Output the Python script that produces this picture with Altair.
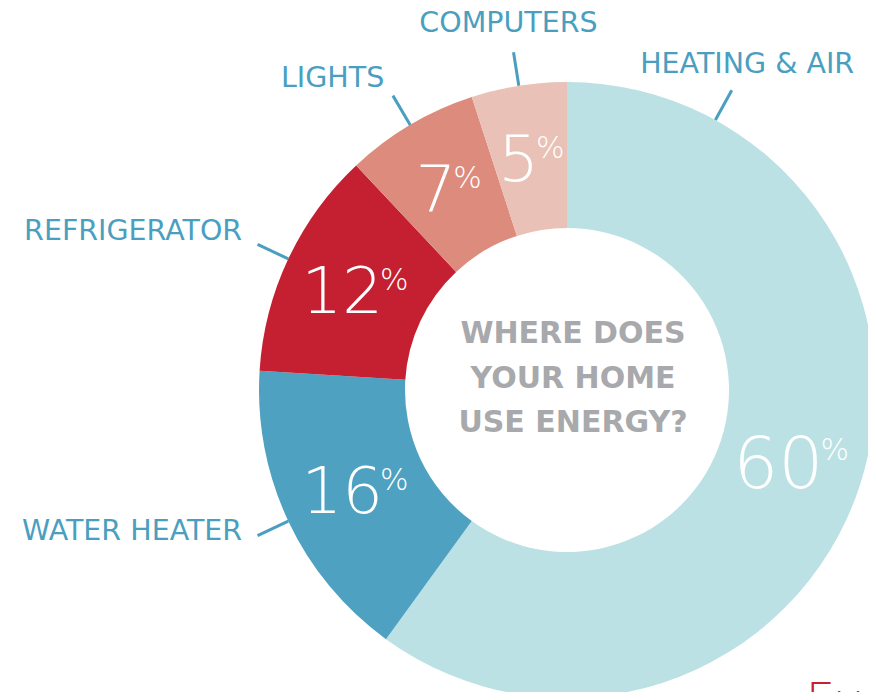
import altair as alt
import pandas as pd

# ---- data ----
categories = ["HEATING & AIR", "WATER HEATER", "REFRIGERATOR", "LIGHTS", "COMPUTERS"]
shares = [60, 16, 12, 7, 5]
colors = ["#BCE1E4", "#4EA1C0", "#C42032", "#DD8B7C", "#E9C1B6"]
center_lines = ["WHERE DOES", "YOUR HOME", "USE ENERGY?"]
footer_text = "Every"

df = pd.DataFrame({"idx": list(range(len(categories))), "category": categories, "value": shares})

# ---- layout constants ----
CX, CY = 559, 382
R_OUT, R_IN = 308, 162
R_PCT = 235
R_L1, R_L2 = 308, 342
LABEL_BLUE = "#4A9FC0"
FONT = "DejaVu Sans"

base = (
    alt.Chart(df)
    .transform_window(cum="sum(value)", sort=[alt.SortField("idx")], frame=[None, 0])
    .transform_joinaggregate(total="sum(value)")
    .transform_calculate(
        a0="2*PI*(datum.cum-datum.value)/datum.total",
        a1="2*PI*datum.cum/datum.total",
    )
    .transform_calculate(
        am="(datum.a0+datum.a1)/2",
        al="datum.a0 + 2*PI*min(datum.value/2, 8)/datum.total",
    )
)

arcs = base.mark_arc(innerRadius=R_IN, outerRadius=R_OUT).encode(
    theta=alt.Theta("a0:Q", scale=None),
    theta2="a1:Q",
    color=alt.Color("category:N", scale=alt.Scale(domain=categories, range=colors), legend=None),
    x=alt.value(CX),
    y=alt.value(CY),
)

pct_base = base.transform_calculate(
    px=f"{CX} + {R_PCT}*sin(datum.am)",
    py=f"{CY} - {R_PCT}*cos(datum.am)",
    label="toString(datum.value)",
    fs="datum.value >= 30 ? 71 : 64",
).transform_calculate(
    jx="datum.px + (length(datum.label)*0.62*datum.fs - 26)/2",
).transform_calculate(
    nx="datum.jx + 2",
    ny="datum.py + datum.fs*0.36",
    qx="datum.jx - 1",
    qy="datum.py - (datum.fs - 64)*0.36",
)

numbers = pct_base.mark_text(
    align="right", baseline="alphabetic", font=FONT, fontWeight=200, color="white"
).encode(
    x=alt.X("nx:Q", scale=None),
    y=alt.Y("ny:Q", scale=None),
    size=alt.Size("fs:Q", scale=None),
    text="label:N",
)

percents = pct_base.mark_text(
    align="left", baseline="alphabetic", fontSize=30, font=FONT, fontWeight=200, color="white"
).encode(
    x=alt.X("qx:Q", scale=None),
    y=alt.Y("qy:Q", scale=None),
    text=alt.value("%"),
)

lead_base = base.transform_calculate(
    lx1=f"{CX} + {R_L1}*sin(datum.al)",
    ly1=f"{CY} - {R_L1}*cos(datum.al)",
    lx2=f"{CX} + {R_L2}*sin(datum.al)",
    ly2=f"{CY} - {R_L2}*cos(datum.al)",
    tcx=f"{CX} + 374*sin(datum.al)",
    tcy=f"{CY} - 372*cos(datum.al)",
    trx=f"{CX} + 359*sin(datum.al)",
    try_=f"{CY} - 352*cos(datum.al) - 9",
)

leaders = lead_base.mark_rule(color=LABEL_BLUE, strokeWidth=3).encode(
    x=alt.X("lx1:Q", scale=None),
    y=alt.Y("ly1:Q", scale=None),
    x2="lx2:Q",
    y2="ly2:Q",
)

labels_center = lead_base.transform_filter("sin(datum.al) > -0.3").mark_text(
    align="center", baseline="middle", fontSize=28.5, font=FONT, color=LABEL_BLUE
).encode(
    x=alt.X("tcx:Q", scale=None),
    y=alt.Y("tcy:Q", scale=None),
    text="category:N",
)

labels_right = lead_base.transform_filter("sin(datum.al) <= -0.3").mark_text(
    align="right", baseline="middle", fontSize=28.5, font=FONT, color=LABEL_BLUE
).encode(
    x=alt.X("trx:Q", scale=None),
    y=alt.Y("try_:Q", scale=None),
    text="category:N",
)

center_df = pd.DataFrame({"t": [0]})
center_text = alt.Chart(center_df).mark_text(
    align="center", baseline="middle", fontSize=30, font=FONT, fontWeight="bold",
    color="#A7A9AC", lineHeight=44.5,
).encode(
    x=alt.value(565),
    y=alt.value(326),
    text=alt.value(center_lines),
)

footer = alt.Chart(center_df).mark_text(
    align="left", baseline="alphabetic", fontSize=46, font=FONT, fontWeight=200, color="#C8202F"
).encode(
    x=alt.value(798),
    y=alt.value(708),
    text=alt.value(footer_text),
)

chart = alt.layer(
    arcs, numbers, percents, leaders, labels_center, labels_right, center_text, footer
).properties(
    width=860, height=684, autosize=alt.AutoSizeParams(type="none"), padding=0
).configure_view(stroke=None)

chart.save("out.html", embed_options={"renderer": "svg", "actions": False})
